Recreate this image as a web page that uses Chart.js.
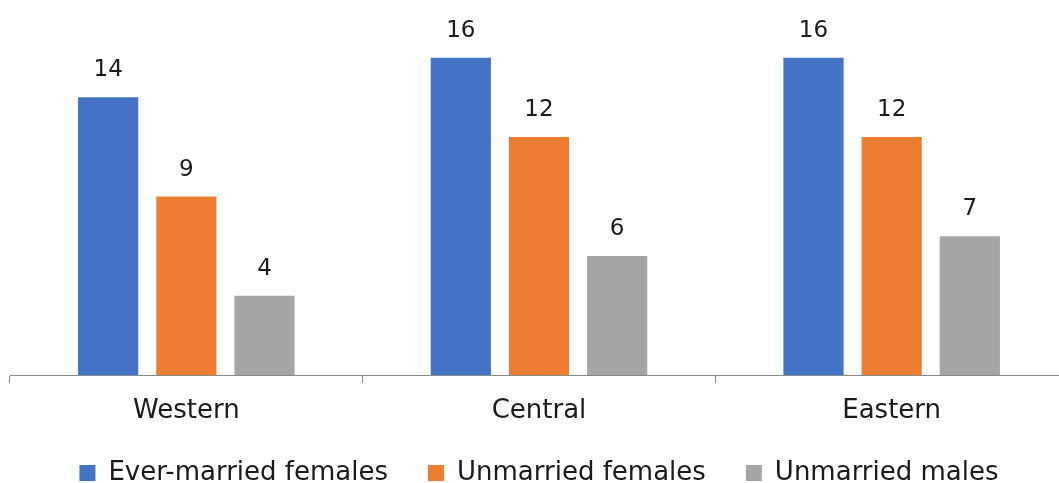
<!DOCTYPE html>
<html>
<head>
<meta charset="utf-8">
<script src="https://cdn.jsdelivr.net/npm/chart.js@4/dist/chart.umd.min.js"></script>
<style>
html,body{margin:0;padding:0;background:#fff;overflow:hidden;}
#wrap{width:1068px;height:483px;position:relative;}
</style>
</head>
<body>
<div id="wrap"><canvas id="c"></canvas></div>
<script>
const categories = ["Western", "Central", "Eastern"];
const everMarriedFemales = [14, 16, 16];
const unmarriedFemales = [9, 12, 12];
const unmarriedMales = [4, 6, 7];
const seriesNames = ["Ever-married females", "Unmarried females", "Unmarried males"];
const seriesColors = ["#4472C4", "#ED7D31", "#A5A5A5"];

const FONT = "'DejaVu Sans', sans-serif";

const valueLabels = {
  id: 'valueLabels',
  afterDatasetsDraw(chart) {
    const ctx = chart.ctx;
    ctx.save();
    ctx.font = "23px " + FONT;
    ctx.fillStyle = "#1a1a1a";
    ctx.textAlign = "center";
    ctx.textBaseline = "alphabetic";
    chart.data.datasets.forEach((ds, i) => {
      const meta = chart.getDatasetMeta(i);
      meta.data.forEach((bar, j) => {
        ctx.fillText(String(ds.data[j]), bar.x, bar.y - 21);
      });
    });
    ctx.restore();
  }
};

new Chart(document.getElementById('c'), {
  type: 'bar',
  data: {
    labels: categories,
    datasets: [
      { label: seriesNames[0], data: everMarriedFemales, backgroundColor: seriesColors[0] },
      { label: seriesNames[1], data: unmarriedFemales, backgroundColor: seriesColors[1] },
      { label: seriesNames[2], data: unmarriedMales, backgroundColor: seriesColors[2] }
    ]
  },
  options: {
    responsive: true,
    maintainAspectRatio: false,
    animation: false,
    layout: { padding: { top: 18, left: 10, right: 0, bottom: -13 } },
    datasets: { bar: { categoryPercentage: 0.665, barPercentage: 0.77 } },
    scales: {
      x: {
        grid: { display: true, drawOnChartArea: false, drawTicks: true, tickLength: 8, color: '#898989', offset: true },
        border: { display: true, color: '#898989', width: 1 },
        ticks: { color: '#1a1a1a', font: { family: FONT, size: 26 }, padding: 13 },
        afterFit(scale) { scale.height = 45; }
      },
      y: {
        display: false,
        min: 0,
        max: 18
      }
    },
    plugins: {
      legend: {
        position: 'bottom',
        labels: {
          color: '#1a1a1a',
          font: { family: FONT, size: 26 },
          boxWidth: 16,
          boxHeight: 16,
          padding: 40
        }
      },
      tooltip: { enabled: false }
    }
  },
  plugins: [valueLabels]
});
</script>
</body>
</html>
